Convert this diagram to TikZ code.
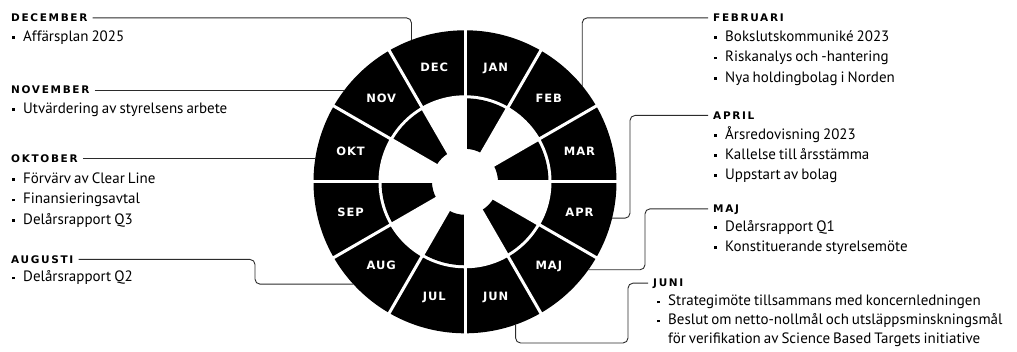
\documentclass[tikz,border=0pt]{standalone}
\usepackage{fontspec}
\setmainfont{PT Sans}[WordSpace=0.75]
\newfontfamily\headfont{DejaVu Sans}[LetterSpace=16]
\newfontfamily\monthfont{DejaVu Sans}[LetterSpace=8]
\usepackage{tikz}
\usetikzlibrary{calc}
\definecolor{wheelblack}{HTML}{000000}
\definecolor{linegray}{HTML}{2B2B2B}
\newcommand{\itemdot}{\makebox[12pt][l]{\hspace{1.2pt}\rule[2.5pt]{2.7pt}{2.7pt}}}

\begin{document}
\begin{tikzpicture}[x=1pt,y=1pt,
  head/.style={anchor=base west,inner sep=0pt,text height=7.7pt,text depth=0pt,font=\headfont\bfseries\fontsize{10.5}{12}\selectfont},
  item/.style={anchor=base west,inner sep=0pt,font=\fontsize{15}{16}\selectfont},
  month/.style={text=white,inner sep=0pt,text height=8.5pt,text depth=0pt,font=\monthfont\bfseries\fontsize{11.5}{13}\selectfont},
  conn/.style={draw=linegray,line width=0.9pt,rounded corners=5pt,shorten <=5pt}]
  \useasboundingbox (0,0) rectangle (1017,-352);

  % Wheel
  \coordinate (c) at (465,-181.8);
  \fill[wheelblack] (c) circle (151.5);
  \fill[white] (c) circle (86.5);
  \foreach \a [evaluate=\a as \b using \a-30] in {90,30,-30,-90,-150,150}
    \fill[wheelblack] ($(c)+(\a:83.5)$) arc[start angle=\a,end angle=\b,radius=83.5]
      -- ($(c)+(\b:33)$) arc[start angle=\b,end angle=\a,radius=33] -- cycle;
  \foreach \a in {0,30,...,330}
    \draw[white,line width=3pt] (c) -- ($(c)+(\a:153)$);
  \foreach \m [count=\i] in {JAN,FEB,MAR,APR,MAJ,JUN,JUL,AUG,SEP,OKT,NOV,DEC}
    \node[month] (m\i) at ($(c)+({105-30*\i}:118.5)$) {\m};

  % Left column
  \node[head] (dec) at (11,-21.7) {DECEMBER};
  \node[item] (decA) at (11,-41.7) {\itemdot Affärsplan 2025};

  \node[head] (nov) at (11,-94) {NOVEMBER};
  \node[item] (novA) at (11,-113.3) {\itemdot Utvärdering av styrelsens arbete};

  \node[head] (okt) at (11,-162.7) {OKTOBER};
  \node[item] (oktA) at (11,-183.3) {\itemdot Förvärv av Clear Line};
  \node[item] (oktB) at (11,-204) {\itemdot Finansieringsavtal};
  \node[item] (oktC) at (11,-224.3) {\itemdot Delårsrapport Q3};

  \node[head] (aug) at (11,-263.3) {AUGUSTI};
  \node[item] (augA) at (11,-282) {\itemdot Delårsrapport Q2};

  % Right column
  \node[head] (feb) at (713,-21.7) {FEBRUARI};
  \node[item] (febA) at (713,-41.3) {\itemdot Bokslutskommuniké 2023};
  \node[item] (febB) at (713,-61.8) {\itemdot Riskanalys och -hantering};
  \node[item] (febC) at (713,-82.2) {\itemdot Nya holdingbolag i Norden};

  \node[head] (apr) at (713,-119.3) {APRIL};
  \node[item] (aprA) at (713,-139.5) {\itemdot Årsredovisning 2023};
  \node[item] (aprB) at (713,-159.5) {\itemdot Kallelse till årsstämma};
  \node[item] (aprC) at (713,-179.5) {\itemdot Uppstart av bolag};

  \node[head] (maj) at (713,-212.7) {MAJ};
  \node[item] (majA) at (713,-231.7) {\itemdot Delårsrapport Q1};
  \node[item] (majB) at (713,-251.7) {\itemdot Konstituerande styrelsemöte};

  \node[head] (jun) at (653,-287) {JUNI};
  \node[item] (junA) at (656,-306) {\itemdot Strategimöte tillsammans med koncernledningen};
  \node[item] (junB) at (656,-325) {\itemdot Beslut om netto-nollmål och utsläppsminskningsmål};
  \node[item] (junC) at (668,-344) {för verifikation av Science Based Targets initiative};

  % Connectors
  \coordinate (decpt) at ($(c)+(110.7:151.5)$);
  \coordinate (novpt) at ($(c)+(142.9:151.5)$);
  \coordinate (oktpt) at ($(c)+(170.6:151.5)$);
  \coordinate (augpt) at ($(c)+(222.5:151.5)$);
  \coordinate (febpt) at ($(c)+(39.3:151.5)$);
  \coordinate (aprpt) at ($(c)+(-13.9:151.5)$);
  \coordinate (majpt) at ($(c)+(-35.5:151.5)$);
  \coordinate (junpt) at ($(c)+(-70.5:151.5)$);
  \coordinate (augx) at (255,0);
  \coordinate (aprx) at (630,0);
  \coordinate (majx) at (645,0);
  \coordinate (junturn) at (628,-343);

  \draw[conn] (dec.east) -| (decpt);
  \draw[conn] (nov.east) -- (nov.east -| novpt);
  \draw[conn] (okt.east) -- (okt.east -| oktpt);
  \draw[conn] (aug.east) -| (augx |- augpt) -- (augpt);
  \draw[conn] (feb.west) -| (febpt);
  \draw[conn] (apr.west) -| (aprx |- aprpt) -- (aprpt);
  \draw[conn] (maj.west) -| (majx |- majpt) -- (majpt);
  \draw[conn] (jun.west) -| (junturn) -| (junpt);
\end{tikzpicture}
\end{document}
